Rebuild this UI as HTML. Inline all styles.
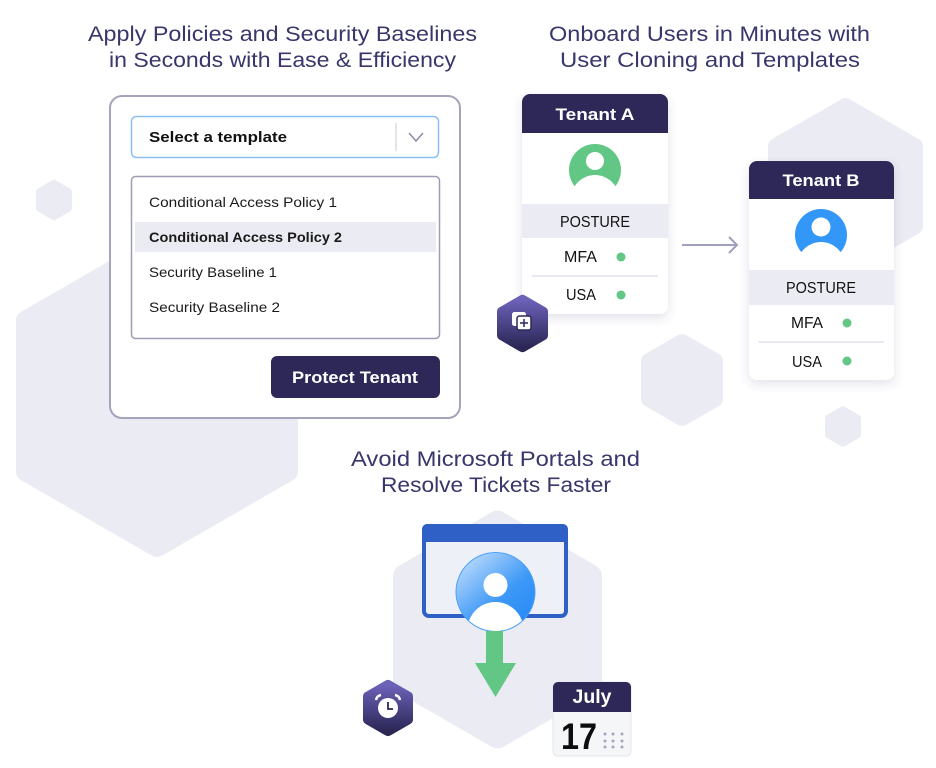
<!DOCTYPE html>
<html><head><meta charset="utf-8"><style>
html,body{margin:0;padding:0;background:#fff;}
svg{display:block;}
text{font-family:"Liberation Sans",Arial,sans-serif;}
</style></head><body>
<svg width="936" height="768" viewBox="0 0 936 768" xmlns="http://www.w3.org/2000/svg">
<defs>
<linearGradient id="pg" x1="0" y1="0" x2="0" y2="1">
<stop offset="0" stop-color="#6c62b9"/><stop offset="1" stop-color="#2b2755"/>
</linearGradient>
<linearGradient id="bg" x1="0.15" y1="0.1" x2="0.85" y2="0.9">
<stop offset="0" stop-color="#b0d5fb"/><stop offset="0.6" stop-color="#3d98f7"/><stop offset="1" stop-color="#2a8cf5"/>
</linearGradient>
<filter id="sh" x="-20%" y="-20%" width="140%" height="140%">
<feDropShadow dx="0" dy="4" stdDeviation="5" flood-color="#4a4a80" flood-opacity="0.16"/>
</filter>
<clipPath id="avc"><circle cx="495.5" cy="592" r="39"/></clipPath>
</defs>

<!-- background hexagons -->
<g fill="#ebebf3" stroke="#ebebf3" stroke-linejoin="round">
<polygon stroke-width="20" points="157,245 288,320.5 288,471.5 157,547 26,471.5 26,320.5"/>
<polygon stroke-width="16" points="845.5,106 915,146.1 915,226.4 845.5,266.5 776,226.4 776,146.1"/>
<polygon stroke-width="8" points="54,183.8 68,191.9 68,208.1 54,216.2 40,208.1 40,191.9"/>
<polygon stroke-width="16" points="682,341.9 715,361 715,399 682,418.1 649,399 649,361"/>
<polygon stroke-width="8" points="843,410.3 857,418.4 857,434.6 843,442.7 829,434.6 829,418.4"/>
<polygon stroke-width="24" points="497.5,522.7 590,576.1 590,682.9 497.5,736.3 405,682.9 405,576.1"/>
</g>

<!-- titles -->
<g fill="#38366b" font-size="21">
<text x="88" y="41" textLength="389" lengthAdjust="spacingAndGlyphs">Apply Policies and Security Baselines</text>
<text x="109" y="67" textLength="347" lengthAdjust="spacingAndGlyphs">in Seconds with Ease &amp; Efficiency</text>
<text x="549" y="41" textLength="321" lengthAdjust="spacingAndGlyphs">Onboard Users in Minutes with</text>
<text x="560" y="67" textLength="300" lengthAdjust="spacingAndGlyphs">User Cloning and Templates</text>
<text x="351" y="466" textLength="289" lengthAdjust="spacingAndGlyphs">Avoid Microsoft Portals and</text>
<text x="381" y="492" textLength="230" lengthAdjust="spacingAndGlyphs">Resolve Tickets Faster</text>
</g>

<!-- left card -->
<rect x="110" y="96" width="350" height="322" rx="12" fill="#fff" stroke="#a4a5bd" stroke-width="2"/>
<rect x="131.5" y="116.5" width="307" height="41" rx="5" fill="#fff" stroke="#8cc0f2" stroke-width="1.5"/>
<line x1="396" y1="123" x2="396" y2="151" stroke="#e4e4ec" stroke-width="2"/>
<polyline points="409,133 416,141 423,133" fill="none" stroke="#8a8aa6" stroke-width="1.5"/>
<text x="149" y="142" font-size="15" font-weight="bold" fill="#111" textLength="138" lengthAdjust="spacingAndGlyphs">Select a template</text>
<rect x="131.5" y="176.5" width="308" height="162" rx="4" fill="#fff" stroke="#9d9eb6" stroke-width="1.5"/>
<rect x="135" y="222" width="301" height="30" fill="#ebebf3"/>
<g font-size="14" fill="#1a1a1a">
<text x="149" y="207" textLength="188" lengthAdjust="spacingAndGlyphs">Conditional Access Policy 1</text>
<text x="149" y="242" font-weight="bold" textLength="193" lengthAdjust="spacingAndGlyphs">Conditional Access Policy 2</text>
<text x="149" y="277" textLength="128" lengthAdjust="spacingAndGlyphs">Security Baseline 1</text>
<text x="149" y="312" textLength="131" lengthAdjust="spacingAndGlyphs">Security Baseline 2</text>
</g>
<rect x="271" y="356" width="169" height="42" rx="6" fill="#2d2857"/>
<text x="292" y="383" font-size="17" font-weight="bold" fill="#fff" textLength="126" lengthAdjust="spacingAndGlyphs">Protect Tenant</text>

<!-- Tenant A -->
<g filter="url(#sh)">
<rect x="522" y="94" width="146" height="220" rx="8" fill="#fff"/>
</g>
<path d="M522,133 V102 a8,8 0 0 1 8,-8 H660 a8,8 0 0 1 8,8 V133 Z" fill="#2d2857"/>
<text x="595" y="120" text-anchor="middle" font-size="17" font-weight="bold" fill="#fff" textLength="79" lengthAdjust="spacingAndGlyphs">Tenant A</text>
<circle cx="595" cy="170" r="26" fill="#62c784"/>
<circle cx="595" cy="161" r="9" fill="#fff"/>
<circle cx="595" cy="199" r="24" fill="#fff"/>
<rect x="522" y="204" width="146" height="34" fill="#ebebf3"/>
<text x="595" y="227" text-anchor="middle" font-size="15.5" fill="#111" textLength="70" lengthAdjust="spacingAndGlyphs">POSTURE</text>
<text x="564" y="262" font-size="15.5" fill="#111" textLength="33" lengthAdjust="spacingAndGlyphs">MFA</text>
<circle cx="621" cy="257" r="4.5" fill="#62c784"/>
<line x1="532" y1="276" x2="658" y2="276" stroke="#e2e2ee" stroke-width="1.5"/>
<text x="566" y="300" font-size="15.5" fill="#111" textLength="30" lengthAdjust="spacingAndGlyphs">USA</text>
<circle cx="621" cy="295" r="4.5" fill="#62c784"/>

<!-- arrow -->
<line x1="682" y1="245" x2="737" y2="245" stroke="#a09fc0" stroke-width="2"/>
<polyline points="729,237 737,245 729,253" fill="none" stroke="#a09fc0" stroke-width="2"/>

<!-- Tenant B -->
<g filter="url(#sh)">
<rect x="749" y="161" width="145" height="219" rx="8" fill="#fff"/>
</g>
<path d="M749,199 V169 a8,8 0 0 1 8,-8 H886 a8,8 0 0 1 8,8 V199 Z" fill="#2d2857"/>
<text x="821" y="186" text-anchor="middle" font-size="17" font-weight="bold" fill="#fff" textLength="77" lengthAdjust="spacingAndGlyphs">Tenant B</text>
<circle cx="821" cy="235" r="26" fill="#3297f7"/>
<circle cx="821" cy="227" r="9.5" fill="#fff"/>
<circle cx="821" cy="266" r="24" fill="#fff"/>
<rect x="749" y="270" width="145" height="35" fill="#ebebf3"/>
<text x="821" y="293" text-anchor="middle" font-size="15.5" fill="#111" textLength="70" lengthAdjust="spacingAndGlyphs">POSTURE</text>
<text x="791" y="328" font-size="15.5" fill="#111" textLength="32" lengthAdjust="spacingAndGlyphs">MFA</text>
<circle cx="847" cy="323" r="4.5" fill="#62c784"/>
<line x1="758" y1="342" x2="884" y2="342" stroke="#e2e2ee" stroke-width="1.5"/>
<text x="792" y="367" font-size="15.5" fill="#111" textLength="30" lengthAdjust="spacingAndGlyphs">USA</text>
<circle cx="847" cy="361" r="4.5" fill="#62c784"/>

<!-- clone icon hex -->
<polygon points="522.5,299.8 543,311.7 543,335.3 522.5,347.2 502,335.3 502,311.7" fill="url(#pg)" stroke="url(#pg)" stroke-width="10" stroke-linejoin="round"/>
<rect x="512" y="312" width="14" height="14" rx="2.5" fill="#fff"/>
<rect x="517" y="316" width="14" height="14" rx="2.5" fill="#fff" stroke="#2d2857" stroke-width="1.5"/>
<line x1="524" y1="319" x2="524" y2="327" stroke="#2d2857" stroke-width="1.5"/>
<line x1="520" y1="323" x2="528" y2="323" stroke="#2d2857" stroke-width="1.5"/>

<!-- browser window -->
<rect x="424" y="526" width="142" height="90" rx="5" fill="#eef0f7" stroke="#2f60c6" stroke-width="4"/>
<path d="M422,542 V529 a5,5 0 0 1 5,-5 H563 a5,5 0 0 1 5,5 V542 Z" fill="#2f60c6"/>
<circle cx="495.5" cy="592" r="40" fill="#4a9ff7"/>
<circle cx="495.5" cy="592" r="39" fill="url(#bg)"/>
<circle cx="495.5" cy="585" r="12" fill="#fff"/>
<circle cx="495.5" cy="630" r="28" fill="#fff" clip-path="url(#avc)"/>
<rect x="486" y="631" width="17" height="33" fill="#62c784"/>
<polygon points="475,663 516,663 495.5,697" fill="#62c784"/>

<!-- clock hex -->
<polygon points="388,684.9 408,696.5 408,719.5 388,731.1 368,719.5 368,696.5" fill="url(#pg)" stroke="url(#pg)" stroke-width="10" stroke-linejoin="round"/>
<circle cx="388" cy="708" r="10" fill="#fff"/>
<polyline points="388,702 388,709 393,709" fill="none" stroke="#2d2857" stroke-width="1.8"/>
<path d="M376,700 A6,6 0 0 1 381,695" fill="none" stroke="#fff" stroke-width="2.5"/>
<path d="M395,695 A6,6 0 0 1 400,700" fill="none" stroke="#fff" stroke-width="2.5"/>

<!-- calendar -->
<rect x="553" y="682" width="78" height="74" rx="5" fill="#f4f6f8" stroke="#e4e4ee" stroke-width="1"/>
<path d="M553,712 V687 a5,5 0 0 1 5,-5 H626 a5,5 0 0 1 5,5 V712 Z" fill="#2d2857"/>
<text x="592" y="703" text-anchor="middle" font-size="19" font-weight="bold" fill="#fff" textLength="39" lengthAdjust="spacingAndGlyphs">July</text>
<text x="561" y="749" font-size="37" font-weight="bold" fill="#0d0d0d" textLength="36" lengthAdjust="spacingAndGlyphs">17</text>
<g fill="#a6a6bf">
<circle cx="605" cy="734" r="1.5"/><circle cx="613" cy="734" r="1.5"/><circle cx="622" cy="734" r="1.5"/>
<circle cx="605" cy="741" r="1.5"/><circle cx="613" cy="741" r="1.5"/><circle cx="622" cy="741" r="1.5"/>
<circle cx="605" cy="747" r="1.5"/><circle cx="613" cy="747" r="1.5"/><circle cx="622" cy="747" r="1.5"/>
</g>
</svg>
</body></html>
